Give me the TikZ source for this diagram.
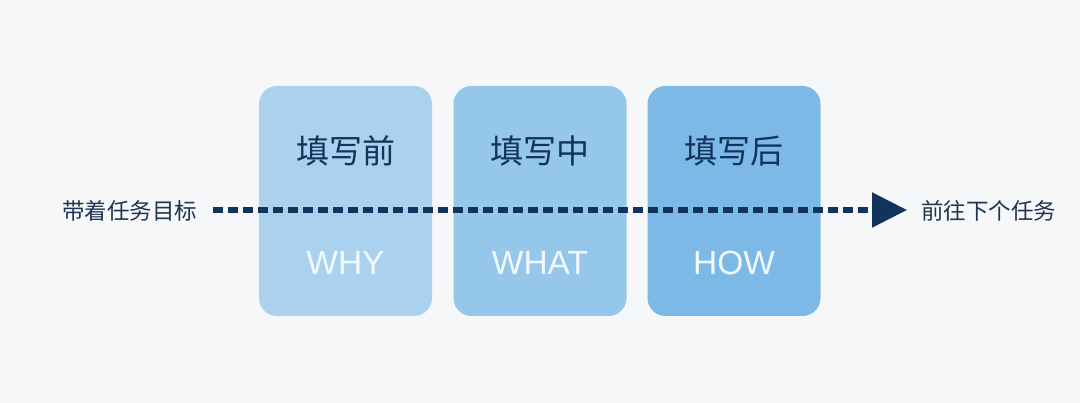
\documentclass[tikz,border=0pt]{standalone}
\usepackage{fontspec}
\setmainfont{Liberation Sans}
\newfontfamily\cjk{Noto Sans CJK SC}
\usetikzlibrary{arrows.meta}
\definecolor{bg}{HTML}{F6F7F9}
\definecolor{boxA}{HTML}{AAD2EE}
\definecolor{boxB}{HTML}{95C7EA}
\definecolor{boxC}{HTML}{7DB9E6}
\definecolor{navy}{HTML}{12335C}
\definecolor{ink}{HTML}{1E3450}
\definecolor{soft}{HTML}{F2F8FD}
\tikzset{
  phase/.style={rounded corners=18pt, minimum width=173pt, minimum height=230pt, inner sep=0pt, draw=none},
  cn/.style={font=\cjk\fontsize{33}{35}\selectfont, text=navy, inner sep=0pt},
  en/.style={font=\fontsize{33.5}{35}\selectfont, text=soft, inner sep=0pt},
  side/.style={font=\cjk\fontsize{22.5}{24}\selectfont, text=ink, inner sep=0pt},
  flow/.style={draw=navy, line width=5.5pt, dash pattern=on 10pt off 5pt, -{Triangle[length=35pt,width=34pt]}}
}
\begin{document}
\begin{tikzpicture}[x=1pt,y=-1pt]
\fill[bg] (0,0) rectangle (1080,403);
\useasboundingbox (0,0) rectangle (1080,403);
\node[phase, fill=boxA] (b1) at (345.5,201) {};
\node[phase, fill=boxB] (b2) at (540,201) {};
\node[phase, fill=boxC] (b3) at (734,201) {};
\node[cn] (c1) at (345.5,151) {填写前};
\node[cn] (c2) at (540,151) {填写中};
\node[cn] (c3) at (734,151) {填写后};
\node[en] (e1) at (345.5,263) {WHY};
\node[en] (e2) at (540,263) {WHAT};
\node[en] (e3) at (734,263) {HOW};
\node[side, anchor=west] (src) at (62,211) {带着任务目标};
\node[side, anchor=west] (dst) at (921,211) {前往下个任务};
\coordinate (s) at (213,210);
\coordinate (t) at (907,210);
\draw[flow] (s) -- (t);
\end{tikzpicture}
\end{document}
